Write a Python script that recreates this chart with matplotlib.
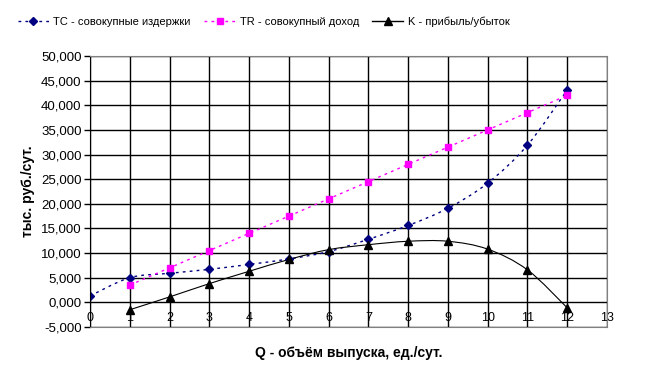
import numpy as np
import matplotlib.pyplot as plt
from matplotlib.path import Path
from matplotlib.patches import PathPatch
from matplotlib.lines import Line2D

plt.rcParams['font.family'] = ['Liberation Sans', 'DejaVu Sans']

q_tc = [0, 1, 2, 3, 4, 5, 6, 7, 8, 9, 10, 11, 12]
tc = [1300, 5000, 5900, 6700, 7700, 8800, 10300, 12800, 15600, 19100, 24200, 31900, 43100]
q_tr = [1, 2, 3, 4, 5, 6, 7, 8, 9, 10, 11, 12]
tr = [3500, 7000, 10500, 14000, 17500, 21000, 24500, 28000, 31500, 35000, 38500, 42000]
k = [-1500, 1100, 3800, 6300, 8700, 10700, 11700, 12400, 12400, 10800, 6600, -1100]

x_ticks = list(range(0, 14))
y_ticks = list(range(-5000, 50001, 5000))
y_labels = ['-5,000', '0,000', '5,000', '10,000', '15,000', '20,000', '25,000',
            '30,000', '35,000', '40,000', '45,000', '50,000']


def smooth_path(x, y):
    # excel-like smoothed line: cubic bezier segments through the points
    pts = np.column_stack([x, y]).astype(float)
    verts = [pts[0]]
    codes = [Path.MOVETO]
    n = len(pts)
    for i in range(n - 1):
        p0 = pts[i - 1] if i > 0 else pts[i]
        p1 = pts[i]
        p2 = pts[i + 1]
        p3 = pts[i + 2] if i + 2 < n else pts[i + 1]
        c1 = p1 + (p2 - p0) / 6.0
        c2 = p2 - (p3 - p1) / 6.0
        verts += [c1, c2, p2]
        codes += [Path.CURVE4] * 3
    return Path(verts, codes)


fig = plt.figure(figsize=(6.45, 3.75), dpi=100)
ax = fig.add_axes([0.1395, 0.128, 0.8015, 0.7227])

ax.set_xlim(0, 13)
ax.set_ylim(-5000, 50000)
ax.set_xticks(x_ticks)
ax.set_yticks(y_ticks)
ax.set_yticklabels(y_labels)
ax.grid(True, color='black', linewidth=1)
ax.set_axisbelow(True)

for s in ['top', 'right', 'bottom']:
    ax.spines[s].set_color('#808080')
    ax.spines[s].set_zorder(5)
ax.spines['left'].set_color('black')
ax.spines['left'].set_zorder(5)

ax.tick_params(axis='y', labelsize=9.5, length=4, width=1, color='black', pad=2)
ax.tick_params(axis='x', length=0, labelsize=9, pad=-10.5)

tc_col = '#000080'
tr_col = '#ff00ff'

ax.add_patch(PathPatch(smooth_path(q_tc, tc), fill=False, edgecolor=tc_col,
                       linewidth=1, linestyle=(0, (2, 3)), zorder=3))
ax.add_patch(PathPatch(smooth_path(q_tr, tr), fill=False, edgecolor=tr_col,
                       linewidth=1, linestyle=(0, (2, 3)), zorder=3))
ax.add_patch(PathPatch(smooth_path(q_tr, k), fill=False, edgecolor='black',
                       linewidth=0.8, zorder=3))

ax.plot(q_tc, tc, linestyle='none', marker='D', markersize=4.2, color=tc_col, zorder=4)
ax.plot(q_tr, tr, linestyle='none', marker='s', markersize=5, color=tr_col, zorder=4)
ax.plot(q_tr, k, linestyle='none', marker='^', markersize=5.5, color='black', zorder=4)

ax.set_xlabel('Q - объём выпуска, ед./сут.', fontsize=10, fontweight='bold', labelpad=14)
ax.set_ylabel('тыс. руб./сут.', fontsize=10, fontweight='bold', labelpad=4)

handles = [
    Line2D([], [], color=tc_col, linestyle=(0, (2, 3)), linewidth=1, marker='D', markersize=4.2),
    Line2D([], [], color=tr_col, linestyle=(0, (2, 3)), linewidth=1, marker='s', markersize=5),
    Line2D([], [], color='black', linewidth=1, marker='^', markersize=5.5),
]
labels = ['TC - совокупные издержки', 'TR - совокупный доход', 'K - прибыль/убыток']
fig.legend(handles, labels, loc='center left', bbox_to_anchor=(0.012, 0.941), ncol=3,
           frameon=False, fontsize=8, handlelength=2.8, handletextpad=0.4,
           columnspacing=1.2)

fig.savefig('out.png', dpi=100)
